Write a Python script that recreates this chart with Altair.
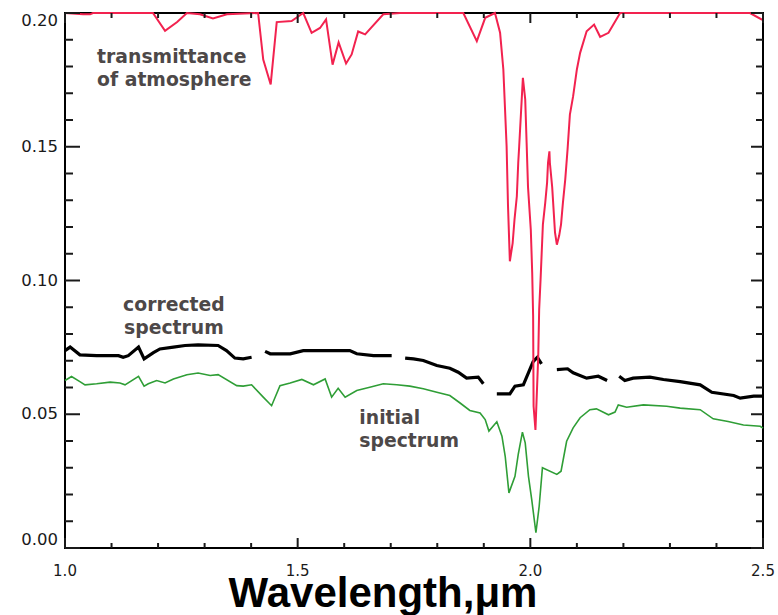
import altair as alt
import pandas as pd

# ---- transmittance of atmosphere (red) ----
trans_x = [1.000, 1.039, 1.054, 1.060, 1.189, 1.215, 1.241, 1.262, 1.290, 1.318,
           1.348, 1.415, 1.426, 1.442, 1.455, 1.487, 1.512, 1.530, 1.548, 1.561,
           1.575, 1.588, 1.604, 1.616, 1.630, 1.645, 1.684, 1.720, 1.856, 1.885,
           1.903, 1.924, 1.935, 1.942, 1.949, 1.952, 1.956, 1.962, 1.966, 1.971,
           1.974, 1.976, 1.984, 1.989, 1.992, 1.995, 2.001, 2.004, 2.006, 2.007,
           2.011, 2.017, 2.019, 2.022, 2.027, 2.032, 2.036, 2.038, 2.041, 2.042,
           2.047, 2.053, 2.057, 2.062, 2.066, 2.070, 2.075, 2.080, 2.085, 2.092,
           2.100, 2.107, 2.121, 2.137, 2.150, 2.168, 2.193, 2.472, 2.497, 2.500]
trans_y = [0.200, 0.1995, 0.1995, 0.200, 0.200, 0.1933, 0.1966, 0.200, 0.1995, 0.1980,
           0.1995, 0.200, 0.1826, 0.1733, 0.1966, 0.1970, 0.200, 0.1926, 0.1944, 0.1976,
           0.1807, 0.1890, 0.1811, 0.1845, 0.1931, 0.1920, 0.1995, 0.200, 0.200, 0.1895,
           0.1982, 0.200, 0.1926, 0.1789, 0.1503, 0.1280, 0.1072, 0.1140, 0.1228, 0.1315,
           0.1440, 0.1500, 0.1758, 0.1677, 0.1515, 0.1350, 0.1190, 0.1030, 0.0867, 0.0530,
           0.0441, 0.0717, 0.0892, 0.1004, 0.1210, 0.1290, 0.1366, 0.1440, 0.1483, 0.1440,
           0.1348, 0.1180, 0.1134, 0.1168, 0.1210, 0.1290, 0.1377, 0.1490, 0.1620, 0.1689,
           0.1789, 0.1851, 0.1932, 0.1957, 0.1911, 0.1926, 0.200, 0.200, 0.1976, 0.1976]

# ---- initial spectrum (green) ----
init_x = [1.000, 1.014, 1.032, 1.043, 1.068, 1.097, 1.118, 1.129, 1.158, 1.170,
          1.179, 1.197, 1.215, 1.233, 1.262, 1.286, 1.312, 1.329, 1.369, 1.383,
          1.401, 1.426, 1.444, 1.462, 1.484, 1.509, 1.534, 1.559, 1.573, 1.587,
          1.602, 1.627, 1.655, 1.684, 1.713, 1.741, 1.770, 1.799, 1.827, 1.849,
          1.870, 1.892, 1.903, 1.911, 1.928, 1.939, 1.946, 1.954, 1.967, 1.974,
          1.983, 1.989, 1.996, 2.003, 2.012, 2.019, 2.026, 2.057, 2.066, 2.078,
          2.092, 2.107, 2.128, 2.142, 2.168, 2.182, 2.189, 2.207, 2.243, 2.293,
          2.322, 2.365, 2.393, 2.425, 2.458, 2.494, 2.500]
init_y = [0.0626, 0.0641, 0.0622, 0.0610, 0.0614, 0.0620, 0.0617, 0.0610, 0.0642, 0.0605,
          0.0614, 0.0626, 0.0617, 0.0632, 0.0648, 0.0654, 0.0645, 0.0648, 0.0607, 0.0605,
          0.0610, 0.0564, 0.0532, 0.0607, 0.0617, 0.0630, 0.0610, 0.0632, 0.0564, 0.0597,
          0.0564, 0.0589, 0.0601, 0.0614, 0.0610, 0.0605, 0.0595, 0.0582, 0.0570, 0.0542,
          0.0514, 0.0505, 0.0480, 0.0437, 0.0472, 0.0418, 0.0343, 0.0206, 0.0268, 0.0350,
          0.0433, 0.0393, 0.0268, 0.0181, 0.0057, 0.0156, 0.0300, 0.0275, 0.0287, 0.0399,
          0.0449, 0.0487, 0.0517, 0.0520, 0.0498, 0.0508, 0.0535, 0.0526, 0.0535, 0.0530,
          0.0523, 0.0517, 0.0483, 0.0473, 0.0460, 0.0455, 0.0448]

# ---- corrected spectrum (black), broken into pieces where absorption is strong ----
corr_x = [1.000, 1.011, 1.032, 1.068, 1.115, 1.125, 1.136, 1.158, 1.170, 1.190,
          1.204, 1.233, 1.258, 1.286, 1.329, 1.347, 1.365, 1.383, 1.401,
          1.430, 1.441, 1.484, 1.512, 1.612, 1.627, 1.663, 1.702,
          1.731, 1.749, 1.770, 1.799, 1.827, 1.845, 1.863, 1.888, 1.899,
          1.928, 1.956, 1.967, 1.985, 2.006, 2.015, 2.024,
          2.057, 2.080, 2.092, 2.121, 2.146, 2.165,
          2.191, 2.203, 2.221, 2.257, 2.286, 2.322, 2.365, 2.390, 2.437, 2.451,
          2.480, 2.500]
corr_y = [0.0738, 0.0751, 0.0722, 0.0719, 0.0719, 0.0713, 0.0719, 0.0751, 0.0707, 0.0730,
          0.0744, 0.0751, 0.0757, 0.0759, 0.0757, 0.0738, 0.0710, 0.0707, 0.0713,
          0.0735, 0.0726, 0.0726, 0.0738, 0.0738, 0.0726, 0.0719, 0.0719,
          0.0710, 0.0707, 0.0701, 0.0682, 0.0672, 0.0657, 0.0635, 0.0639, 0.0614,
          0.0576, 0.0576, 0.0605, 0.0610, 0.0697, 0.0713, 0.0688,
          0.0667, 0.0670, 0.0655, 0.0635, 0.0642, 0.0626,
          0.0642, 0.0626, 0.0635, 0.0639, 0.0630, 0.0622, 0.0610, 0.0582, 0.0570, 0.0560,
          0.0568, 0.0568]
corr_piece = [1] * 19 + [2] * 8 + [3] * 9 + [4] * 7 + [5] * 6 + [6] * 12

# ---- ticks and their labels ----
x_major = [1.0, 1.5, 2.0, 2.5]
x_major_text = ["1.0", "1.5", "2.0", "2.5"]
x_minor = [1.1, 1.2, 1.3, 1.4, 1.6, 1.7, 1.8, 1.9, 2.1, 2.2, 2.3, 2.4]
y_major = [0.0, 0.05, 0.10, 0.15, 0.20]
y_major_text = ["0.00", "0.05", "0.10", "0.15", "0.20"]
y_minor = [0.01, 0.02, 0.03, 0.04, 0.06, 0.07, 0.08, 0.09,
           0.11, 0.12, 0.13, 0.14, 0.16, 0.17, 0.18, 0.19]
x_title = "Wavelength,μm"

# ---- annotations ----
note_left_text = ["transmittance\nof atmosphere", "initial\nspectrum"]
note_left_x = [1.069, 1.6325]
note_left_y = [0.1812, 0.0464]
note_center_text = ["corrected\nspectrum"]
note_center_x = [1.234]
note_center_y = [0.0887]

W, H = 698, 535
X0, X1 = 1.0, 2.5
Y0, Y1 = 0.0, 0.2
# one pixel expressed in axis units, for the inward tick lengths
px_x = (X1 - X0) / W
px_y = (Y1 - Y0) / H


# every tick of the box frame as one segment (x, x2, y, y2), pointing inward
def tick_segments():
    rows = []
    for values, length in ((x_major, 10), (x_minor, 5)):
        for v in values:
            rows.append((v, v, Y0, Y0 + length * px_y))      # bottom edge
            rows.append((v, v, Y1, Y1 - length * px_y))      # top edge
    for values, left_len, right_len in ((y_major, 15, 12), (y_minor, 8, 7)):
        for v in values:
            rows.append((X0, X0 + left_len * px_x, v, v))    # left edge
            rows.append((X1, X1 - right_len * px_x, v, v))   # right edge
    return pd.DataFrame(rows, columns=["x", "x2", "y", "y2"])


trans = pd.DataFrame({"x": trans_x, "y": trans_y})
init = pd.DataFrame({"x": init_x, "y": init_y})
corr = pd.DataFrame({"x": corr_x, "y": corr_y, "piece": corr_piece})
notes_l = pd.DataFrame({"x": note_left_x, "y": note_left_y, "t": note_left_text})
notes_c = pd.DataFrame({"x": note_center_x, "y": note_center_y, "t": note_center_text})
xlab = pd.DataFrame({"v": x_major, "t": x_major_text})
ylab = pd.DataFrame({"v": y_major, "t": y_major_text})
segs = tick_segments()

xs = alt.Scale(domain=[X0, X1], nice=False, zero=False)
ys = alt.Scale(domain=[Y0, Y1], nice=False, zero=False)
X = dict(scale=xs, axis=None)
Y = dict(scale=ys, axis=None)

TICK = "#1a1a1a"
LABEL_FONT = "DejaVu Sans"

# frame ticks, drawn as the topmost layer
ticks = alt.Chart(segs).mark_rule(color=TICK, strokeWidth=2, clip=False).encode(
    x=alt.X("x:Q", **X), x2="x2:Q",
    y=alt.Y("y:Q", **Y), y2="y2:Q",
)

# tick labels: below the frame for x, left of it for y (end labels kept inside)
x_labels = alt.Chart(xlab).mark_text(
    font=LABEL_FONT, fontSize=15, color=TICK, align="center",
    baseline="alphabetic").encode(
    x=alt.X("v:Q", **X), y=alt.value(H + 28), text="t:N")

ylab_base = alt.Chart(ylab)
y_label_style = dict(font=LABEL_FONT, fontSize=16.5, color=TICK, align="right")
y_labels = [
    ylab_base.transform_filter("datum.v > 0.001 && datum.v < 0.199")
    .mark_text(baseline="middle", **y_label_style)
    .encode(y=alt.Y("v:Q", **Y), x=alt.value(-7), text="t:N"),
    ylab_base.transform_filter("datum.v >= 0.199")
    .mark_text(baseline="top", **y_label_style)
    .encode(y=alt.Y("v:Q", **Y), x=alt.value(-7), text="t:N"),
    ylab_base.transform_filter("datum.v <= 0.001")
    .mark_text(baseline="bottom", **y_label_style)
    .encode(y=alt.Y("v:Q", **Y), x=alt.value(-7), text="t:N"),
]

title = alt.Chart(pd.DataFrame({"t": [x_title]})).mark_text(
    font="Liberation Sans", fontSize=42, fontWeight="bold", color="black",
    align="center", baseline="alphabetic").encode(
    x=alt.value(318), y=alt.value(H + 59), text="t:N")

green = alt.Chart(init).mark_line(color="#2f9e36", strokeWidth=1.6).encode(
    x=alt.X("x:Q", **X), y=alt.Y("y:Q", **Y),
)

black = alt.Chart(corr).mark_line(color="black", strokeWidth=3.2).encode(
    x=alt.X("x:Q", **X), y=alt.Y("y:Q", **Y), detail="piece:N",
)

red = alt.Chart(trans).mark_line(color="#f2224f", strokeWidth=2).encode(
    x=alt.X("x:Q", **X), y=alt.Y("y:Q", **Y),
)

note_style = dict(font="DejaVu Sans", fontSize=18.8, fontWeight="bold",
                  color="#4d4848", baseline="alphabetic", lineBreak="\n",
                  lineHeight=23)

notes_left = alt.Chart(notes_l).mark_text(align="left", **note_style).encode(
    x=alt.X("x:Q", **X), y=alt.Y("y:Q", **Y), text="t:N",
)

notes_center = alt.Chart(notes_c).mark_text(align="center", **note_style).encode(
    x=alt.X("x:Q", **X), y=alt.Y("y:Q", **Y), text="t:N",
)

chart = (
    alt.layer(green, black, red, notes_left, notes_center,
              x_labels, *y_labels, title, ticks)
    .properties(
        width=W,
        height=H,
        padding={"left": 65, "top": 13, "right": 15, "bottom": 67},
        autosize=alt.AutoSizeParams(type="none"),
        background="white",
    )
    .configure_view(stroke="black", strokeWidth=2)
)

chart.save("out.html", embed_options={"renderer": "svg", "actions": False})
